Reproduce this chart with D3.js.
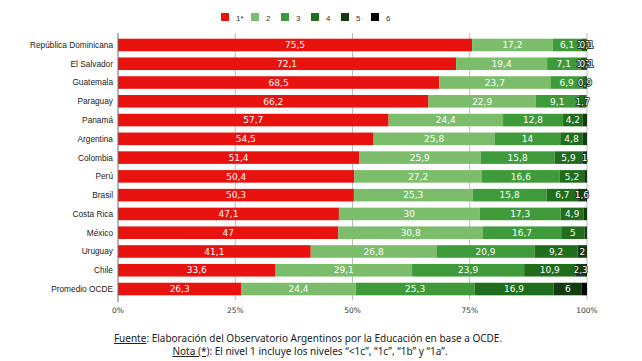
<!DOCTYPE html>
<html>
<head>
<meta charset="utf-8">
<script src="https://cdn.jsdelivr.net/npm/d3@7"></script>
<style>
    html, body { margin: 0; padding: 0; background: #fff; }
    svg { display: block; }
</style>
</head>
<body>
<svg id="chart" width="642" height="361"></svg>
<script>

    // countries, top to bottom
    var countries = [
          "República Dominicana", "El Salvador", "Guatemala", "Paraguay", "Panamá"
        , "Argentina", "Colombia", "Perú", "Brasil", "Costa Rica"
        , "México", "Uruguay", "Chile", "Promedio OCDE"
    ];

    var levels = ["1*", "2", "3", "4", "5", "6"];

    // share of students per level (%)
    var level1 = [75.5, 72.1, 68.5, 66.2, 57.7, 54.5, 51.4, 50.4, 50.3, 47.1, 47, 41.1, 33.6, 26.3];
    var level2 = [17.2, 19.4, 23.7, 22.9, 24.4, 25.8, 25.9, 27.2, 25.3, 30, 30.8, 26.8, 29.1, 24.4];
    var level3 = [6.1, 7.1, 6.9, 9.1, 12.8, 14, 15.8, 16.6, 15.8, 17.3, 16.7, 20.9, 23.9, 25.3];
    var level4 = [1.1, 1.3, 0.9, 1.7, 4.2, 4.8, 5.9, 5.2, 6.7, 4.9, 5, 9.2, 10.9, 16.9];
    var level5 = [0.1, 0.1, 0, 0, 0.9, 0.9, 1, 0.6, 1.6, 0.7, 0.5, 2, 2.3, 6];
    var level6 = [0, 0, 0, 0, 0, 0, 0, 0, 0.3, 0, 0, 0, 0.2, 1.1];

    // [country index, level index] whose value is not written on the bar
    var hidden = [[4, 4], [5, 4], [7, 4], [9, 4], [10, 4], [8, 5], [12, 5], [13, 5]];

    var colors = ["#e8120e", "#7cbd6b", "#3f9a39", "#206d1c", "#113d10", "#000000"];

    var ticks = [0, 25, 50, 75, 100];

    var series = [level1, level2, level3, level4, level5, level6];

    var svg = d3.select("#chart");

    var x = d3.scaleLinear().domain([0, 100]).range([118, 587]);

    var y = d3.scaleBand()
        .domain(countries)
        .range([32.5, 301.5])
        .paddingInner(0.33)
        .paddingOuter(0.33);

    var color = d3.scaleOrdinal().domain(levels).range(colors);

    var fmt = function (v) { return String(v).replace(".", ","); };

    // gridlines
    svg.append("g")
        .selectAll("line")
        .data(ticks.slice(1))
        .enter()
        .append("line")
        .attr("x1", function (t) { return x(t); })
        .attr("x2", function (t) { return x(t); })
        .attr("y1", 33)
        .attr("y2", 300)
        .attr("stroke", "#bdbdbd")
        .attr("stroke-width", 1);

    // stacked rows
    var rows = countries.map(function (c, i) {
        var acc = 0;
        return series.map(function (s, k) {
            var d = { country: c, i: i, k: k, v: s[i], x0: acc };
            acc += s[i];
            d.x1 = acc;
            return d;
        });
    });

    var segs = [].concat.apply([], rows).filter(function (d) { return d.v > 0; });

    svg.append("g")
        .selectAll("rect")
        .data(segs)
        .enter()
        .append("rect")
        .attr("x", function (d) { return x(d.x0); })
        .attr("y", function (d) { return y(d.country); })
        .attr("width", function (d) { return x(d.x1) - x(d.x0); })
        .attr("height", y.bandwidth())
        .attr("fill", function (d) { return colors[d.k]; });

    var isHidden = function (d) {
        return hidden.some(function (h) { return h[0] === d.i && h[1] === d.k; });
    };

    svg.append("g")
        .selectAll("text")
        .data(segs.filter(function (d) { return !isHidden(d); }))
        .enter()
        .append("text")
        .attr("x", function (d) { return (x(d.x0) + x(d.x1)) / 2; })
        .attr("y", function (d) { return y(d.country) + y.bandwidth() / 2; })
        .attr("dy", "0.36em")
        .attr("text-anchor", "middle")
        .attr("font-family", "DejaVu Sans, Verdana, sans-serif")
        .attr("font-size", 9)
        .attr("fill", "#fff")
        .attr("stroke", function (d) { return d.v < 3 ? "#1a2a18" : "none"; })
        .attr("stroke-width", 1.6)
        .attr("paint-order", "stroke")
        .text(function (d) { return fmt(d.v); });

    // y axis
    svg.append("line")
        .attr("x1", x(0)).attr("x2", x(0))
        .attr("y1", 33).attr("y2", 302)
        .attr("stroke", "#6d6d6d");

    svg.append("g")
        .selectAll("text")
        .data(countries)
        .enter()
        .append("text")
        .attr("x", 113)
        .attr("y", function (c) { return y(c) + y.bandwidth() / 2; })
        .attr("dy", "0.35em")
        .attr("text-anchor", "end")
        .attr("font-family", "Liberation Sans, Arial, sans-serif")
        .attr("font-size", 8.3)
        .attr("fill", "#222")
        .text(function (c) { return c; });

    // x tick labels
    svg.append("g")
        .selectAll("text")
        .data(ticks)
        .enter()
        .append("text")
        .attr("x", function (t) { return x(t); })
        .attr("y", 313)
        .attr("text-anchor", "middle")
        .attr("font-family", "DejaVu Sans, Verdana, sans-serif")
        .attr("font-size", 7.5)
        .attr("fill", "#333")
        .text(function (t) { return t + "%"; });

    // legend
    var lg = svg.append("g")
        .selectAll("g")
        .data(levels)
        .enter()
        .append("g")
        .attr("transform", function (l, i) { return "translate(" + (221 + i * 30) + ",13)"; });

    lg.append("rect")
        .attr("width", 8).attr("height", 8)
        .attr("fill", function (l) { return color(l); });

    lg.append("text")
        .attr("x", 15).attr("y", 7.5)
        .attr("font-family", "Liberation Sans, Arial, sans-serif")
        .attr("font-size", 8)
        .attr("fill", "#333")
        .text(function (l) { return l; });

    // source notes
    var note = svg.append("g")
        .attr("font-family", "Noto Sans, sans-serif")
        .attr("font-size", 10)
        .attr("fill", "#222")
        .attr("text-anchor", "middle");

    var t1 = note.append("text").attr("x", 308).attr("y", 342);
    t1.append("tspan").attr("text-decoration", "underline").text("Fuente");
    t1.append("tspan").text(": Elaboración del Observatorio Argentinos por la Educación en base a OCDE.");

    var t2 = note.append("text").attr("x", 310).attr("y", 355);
    t2.append("tspan").attr("text-decoration", "underline").text("Nota (*)");
    t2.append("tspan").text(": El nivel 1 incluye los niveles \u201c<1c\u201d, \u201c1c\u201d, \u201c1b\u201d y \u201c1a\u201d.");

</script>
</body>
</html>
